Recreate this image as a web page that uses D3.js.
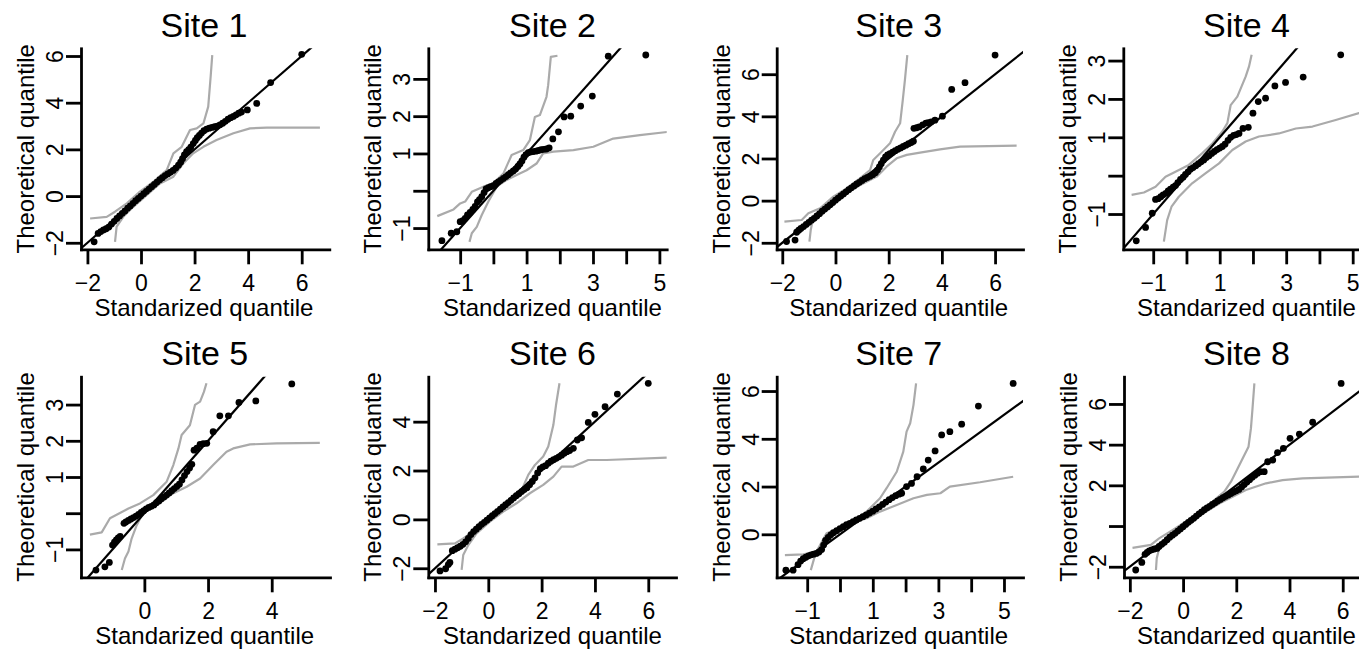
<!DOCTYPE html>
<html>
<head>
<meta charset="utf-8">
<script src="https://cdn.jsdelivr.net/npm/d3@7"></script>
<style>
  body { margin: 0; background: #fff; }
  svg { display: block; font-family: "Liberation Sans", Arial, Helvetica, sans-serif; }
</style>
</head>
<body>
<div id="grid"></div>
<script>
// Panel titles
var siteNames = ["Site 1", "Site 2", "Site 3", "Site 4", "Site 5", "Site 6", "Site 7", "Site 8"];

// Axis ranges (standardized on x, theoretical on y)
var xRanges = [[-2.24, 7.03], [-1.96, 5.22], [-2.21, 7.05], [-1.9, 5.31],
               [-1.99, 5.83], [-2.25, 7.04], [-1.93, 5.58], [-2.22, 7.1]];
var yRanges = [[-2.28, 6.33], [-1.57, 3.82], [-2.31, 7.23], [-1.92, 3.32],
               [-1.77, 3.77], [-2.37, 5.84], [-1.8, 6.6], [-2.52, 7.34]];

// Tick values and labels ("" = tick without label)
var xTickValues = [[-2, 0, 2, 4, 6], [-1, 0, 1, 2, 3, 4, 5], [-2, 0, 2, 4, 6], [-1, 0, 1, 2, 3, 4, 5],
                   [0, 2, 4], [-2, 0, 2, 4, 6], [-1, 0, 1, 2, 3, 4, 5], [-2, 0, 2, 4, 6]];
var xTickLabels = [["−2", "0", "2", "4", "6"], ["−1", "", "1", "", "3", "", "5"], ["−2", "0", "2", "4", "6"], ["−1", "", "1", "", "3", "", "5"],
                   ["0", "2", "4"], ["−2", "0", "2", "4", "6"], ["−1", "", "1", "", "3", "", "5"], ["−2", "0", "2", "4", "6"]];
var yTickValues = [[-2, 0, 2, 4, 6], [-1, 0, 1, 2, 3], [-2, 0, 2, 4, 6], [-1, 0, 1, 2, 3],
                   [-1, 0, 1, 2, 3], [-2, 0, 2, 4], [0, 2, 4, 6], [-2, 0, 2, 4, 6]];
var yTickLabels = [["−2", "0", "2", "4", "6"], ["−1", "", "1", "2", "3"], ["−2", "0", "2", "4", "6"], ["−1", "", "1", "2", "3"],
                   ["−1", "", "1", "2", "3"], ["−2", "0", "2", "4"], ["0", "2", "4", "6"], ["−2", "", "2", "4", "6"]];

// Quantile points [standardized, theoretical]
var site1Points = [[-1.75,-1.96],[-1.6,-1.6],[-1.5,-1.52],[-1.4,-1.45],[-1.3,-1.4],[-1.2,-1.33],[-1.1,-1.2],[-1.0,-1.08],[-0.9,-0.96],[-0.8,-0.85],[-0.7,-0.74],[-0.6,-0.64],[-0.5,-0.52],[-0.4,-0.42],[-0.3,-0.31],[-0.2,-0.2],[-0.1,-0.1],[0.0,0.0],[0.1,0.1],[0.2,0.2],[0.3,0.3],[0.4,0.4],[0.5,0.5],[0.6,0.6],[0.7,0.7],[0.8,0.79],[0.9,0.88],[1.0,0.95],[1.1,1.02],[1.2,1.1],[1.3,1.2],[1.4,1.32],[1.48,1.45],[1.55,1.6],[1.62,1.76],[1.7,1.9],[1.78,1.99],[1.86,2.1],[1.95,2.25],[2.03,2.38],[2.1,2.5],[2.18,2.6],[2.26,2.7],[2.35,2.8],[2.45,2.87],[2.55,2.91],[2.65,2.94],[2.75,2.97],[2.85,3.0],[2.95,3.05],[3.05,3.12],[3.15,3.2],[3.25,3.29],[3.35,3.36],[3.45,3.41],[3.55,3.48],[3.65,3.55],[3.75,3.6],[3.97,3.69],[4.32,3.97],[4.84,4.86],[6.0,6.07]];
var site2Points = [[-1.55,-1.34],[-1.27,-1.14],[-1.1,-1.1],[-1.0,-0.83],[-0.92,-0.8],[-0.85,-0.74],[-0.78,-0.65],[-0.7,-0.58],[-0.62,-0.5],[-0.55,-0.42],[-0.48,-0.3],[-0.42,-0.24],[-0.35,-0.16],[-0.28,-0.05],[-0.22,0.05],[-0.15,0.08],[-0.08,0.11],[0.0,0.14],[0.08,0.2],[0.15,0.24],[0.22,0.28],[0.3,0.33],[0.38,0.38],[0.45,0.43],[0.52,0.48],[0.6,0.53],[0.67,0.58],[0.74,0.65],[0.8,0.72],[0.86,0.8],[0.92,0.9],[0.98,0.97],[1.05,1.02],[1.12,1.04],[1.2,1.05],[1.28,1.06],[1.36,1.08],[1.44,1.1],[1.52,1.11],[1.6,1.12],[1.68,1.15],[1.79,1.39],[1.96,1.58],[2.13,1.98],[2.33,2.0],[2.63,2.27],[2.98,2.54],[3.46,3.61],[4.59,3.64]];
var site3Points = [[-1.84,-1.94],[-1.52,-1.87],[-1.46,-1.5],[-1.38,-1.4],[-1.3,-1.32],[-1.2,-1.23],[-1.1,-1.13],[-1.0,-1.03],[-0.9,-0.93],[-0.8,-0.84],[-0.7,-0.73],[-0.6,-0.62],[-0.5,-0.5],[-0.4,-0.4],[-0.3,-0.3],[-0.2,-0.2],[-0.1,-0.09],[0.0,0.02],[0.1,0.12],[0.2,0.22],[0.3,0.32],[0.4,0.42],[0.5,0.52],[0.6,0.61],[0.7,0.7],[0.8,0.79],[0.9,0.87],[1.0,0.96],[1.1,1.04],[1.2,1.1],[1.3,1.16],[1.4,1.23],[1.5,1.32],[1.58,1.45],[1.65,1.6],[1.72,1.75],[1.8,1.92],[1.88,2.07],[1.96,2.17],[2.05,2.23],[2.15,2.3],[2.25,2.37],[2.35,2.44],[2.45,2.5],[2.55,2.57],[2.65,2.63],[2.75,2.7],[2.85,2.76],[2.93,2.82],[2.95,3.43],[3.05,3.46],[3.15,3.5],[3.28,3.6],[3.4,3.68],[3.49,3.7],[3.6,3.74],[3.74,3.82],[4.02,4.01],[4.37,5.28],[4.87,5.6],[6.0,6.91]];
var site4Points = [[-1.51,-1.7],[-1.23,-1.35],[-1.03,-0.98],[-0.93,-0.62],[-0.85,-0.6],[-0.77,-0.55],[-0.7,-0.5],[-0.62,-0.46],[-0.55,-0.4],[-0.48,-0.35],[-0.4,-0.3],[-0.33,-0.26],[-0.26,-0.18],[-0.18,-0.1],[-0.1,-0.04],[-0.03,0.03],[0.05,0.1],[0.12,0.17],[0.2,0.21],[0.28,0.26],[0.36,0.31],[0.44,0.36],[0.52,0.41],[0.6,0.47],[0.68,0.52],[0.76,0.58],[0.84,0.63],[0.92,0.68],[1.0,0.72],[1.08,0.76],[1.16,0.82],[1.25,0.92],[1.33,1.0],[1.42,1.05],[1.5,1.07],[1.58,1.1],[1.7,1.23],[1.86,1.26],[2.0,1.63],[2.16,1.93],[2.38,2.02],[2.66,2.34],[2.98,2.43],[3.51,2.57],[4.64,3.15]];
var site5Points = [[-1.52,-1.57],[-1.24,-1.48],[-1.1,-1.36],[-1.0,-0.88],[-0.94,-0.8],[-0.88,-0.74],[-0.82,-0.68],[-0.76,-0.64],[-0.64,-0.28],[-0.58,-0.24],[-0.5,-0.2],[-0.42,-0.16],[-0.34,-0.12],[-0.26,-0.08],[-0.18,-0.03],[-0.1,0.02],[-0.02,0.07],[0.06,0.12],[0.14,0.16],[0.22,0.19],[0.3,0.23],[0.38,0.29],[0.46,0.34],[0.54,0.4],[0.62,0.45],[0.7,0.5],[0.78,0.56],[0.86,0.62],[0.94,0.68],[1.02,0.74],[1.1,0.8],[1.18,0.92],[1.26,1.04],[1.34,1.15],[1.42,1.25],[1.49,1.35],[1.56,1.74],[1.65,1.8],[1.75,1.9],[1.85,1.92],[1.96,1.93],[2.16,2.25],[2.37,2.69],[2.64,2.69],[2.97,3.06],[3.5,3.1],[4.63,3.57]];
var site6Points = [[-1.81,-2.11],[-1.6,-2.02],[-1.5,-1.85],[-1.44,-1.76],[-1.35,-1.28],[-1.25,-1.22],[-1.15,-1.16],[-1.05,-1.1],[-0.95,-1.02],[-0.85,-0.92],[-0.75,-0.78],[-0.65,-0.62],[-0.55,-0.5],[-0.45,-0.4],[-0.35,-0.3],[-0.25,-0.2],[-0.15,-0.12],[-0.05,-0.03],[0.05,0.06],[0.15,0.15],[0.25,0.24],[0.35,0.33],[0.45,0.42],[0.55,0.51],[0.65,0.6],[0.75,0.69],[0.85,0.78],[0.95,0.88],[1.05,0.97],[1.15,1.05],[1.25,1.14],[1.35,1.22],[1.45,1.3],[1.55,1.42],[1.65,1.55],[1.75,1.7],[1.85,1.9],[1.95,2.08],[2.05,2.15],[2.15,2.2],[2.25,2.3],[2.35,2.38],[2.45,2.44],[2.55,2.5],[2.65,2.56],[2.75,2.63],[2.85,2.71],[2.95,2.77],[3.05,2.82],[3.19,2.91],[3.34,3.25],[3.5,3.34],[3.75,3.97],[4.0,4.3],[4.38,4.61],[4.84,5.13],[6.0,5.57]];
var site7Points = [[-1.65,-1.5],[-1.43,-1.5],[-1.28,-1.27],[-1.2,-1.12],[-1.12,-1.02],[-1.04,-0.96],[-0.96,-0.9],[-0.88,-0.86],[-0.8,-0.83],[-0.72,-0.8],[-0.64,-0.74],[-0.56,-0.64],[-0.5,-0.45],[-0.44,-0.25],[-0.36,-0.13],[-0.28,-0.02],[-0.2,0.07],[-0.1,0.15],[0.0,0.24],[0.1,0.32],[0.2,0.4],[0.3,0.46],[0.4,0.53],[0.5,0.6],[0.6,0.67],[0.7,0.74],[0.8,0.81],[0.9,0.89],[1.0,0.97],[1.1,1.06],[1.2,1.15],[1.3,1.25],[1.4,1.35],[1.5,1.45],[1.6,1.54],[1.7,1.62],[1.8,1.68],[1.88,1.72],[2.03,2.0],[2.18,2.13],[2.35,2.41],[2.54,2.74],[2.69,3.11],[2.9,3.49],[3.1,4.16],[3.35,4.3],[3.71,4.61],[4.22,5.37],[5.28,6.32]];
var site8Points = [[-1.78,-2.16],[-1.55,-1.79],[-1.43,-1.39],[-1.35,-1.3],[-1.27,-1.22],[-1.18,-1.17],[-1.08,-1.13],[-0.98,-1.1],[-0.9,-1.0],[-0.8,-0.9],[-0.7,-0.8],[-0.6,-0.67],[-0.5,-0.55],[-0.4,-0.45],[-0.3,-0.36],[-0.2,-0.25],[-0.1,-0.14],[0.0,-0.03],[0.1,0.08],[0.2,0.18],[0.3,0.28],[0.4,0.38],[0.5,0.49],[0.6,0.6],[0.7,0.7],[0.8,0.8],[0.9,0.89],[1.0,0.97],[1.1,1.06],[1.2,1.14],[1.3,1.23],[1.4,1.31],[1.5,1.39],[1.6,1.46],[1.7,1.53],[1.8,1.6],[1.9,1.67],[2.0,1.73],[2.1,1.8],[2.2,1.92],[2.3,2.04],[2.4,2.16],[2.5,2.28],[2.6,2.4],[2.7,2.5],[2.8,2.6],[2.9,2.67],[3.05,2.67],[3.18,3.16],[3.37,3.24],[3.55,3.61],[3.77,3.82],[4.02,4.31],[4.37,4.52],[4.87,5.1],[5.94,7.01]];

// Envelope curves (upper and lower)
var site1Upper = [[-1.9,-0.96],[-1.28,-0.89],[-0.97,-0.67],[-0.53,-0.31],[-0.04,0.19],[0.46,0.61],[0.96,1.11],[1.21,1.83],[1.52,2.11],[1.83,2.83],[2.08,2.9],[2.33,3.11],[2.51,3.83],[2.6,5.11],[2.66,6.04]];
var site1Lower = [[-0.97,-1.96],[-0.91,-1.31],[-0.66,-0.89],[-0.29,-0.46],[0.21,0.04],[0.71,0.54],[1.21,0.83],[1.58,1.4],[1.95,1.83],[2.33,2.11],[2.82,2.4],[3.45,2.69],[4.07,2.9],[4.69,2.93],[6.68,2.93]];
var site2Upper = [[-1.69,-0.68],[-1.2,-0.5],[-1.0,-0.34],[-0.85,-0.29],[-0.65,-0.03],[-0.3,0.11],[0,0.2],[0.3,0.46],[0.55,0.96],[0.9,1.09],[1.1,1.36],[1.25,1.98],[1.4,2.03],[1.6,2.52],[1.65,2.83],[1.73,3.59],[1.93,3.62]];
var site2Lower = [[-0.72,-1.37],[-0.65,-1.14],[-0.5,-0.97],[-0.35,-0.65],[-0.15,-0.29],[0.1,0.11],[0.4,0.29],[0.7,0.42],[1.0,0.55],[1.3,0.73],[1.5,1.0],[1.81,1.05],[2.41,1.09],[3.01,1.18],[3.61,1.4],[4.41,1.49],[5.27,1.58]];
var site3Upper = [[-1.92,-1.0],[-1.27,-0.92],[-1.02,-0.6],[-0.58,-0.36],[-0.08,0.19],[0.42,0.58],[0.92,1.06],[1.3,1.45],[1.42,1.93],[1.67,2.24],[2.05,2.72],[2.24,3.27],[2.43,3.67],[2.53,4.77],[2.61,5.72],[2.7,6.91]];
var site3Lower = [[-0.98,-1.94],[-0.93,-1.39],[-0.83,-0.76],[-0.46,-0.36],[0.04,0.11],[0.67,0.58],[1.17,0.9],[1.55,1.14],[1.92,1.61],[2.3,2.01],[2.68,2.17],[3.18,2.28],[3.93,2.43],[4.68,2.56],[6.81,2.61]];
var site4Upper = [[-1.65,-0.5],[-1.28,-0.44],[-0.93,-0.29],[-0.63,-0.03],[-0.33,0.1],[0.07,0.28],[0.47,0.58],[0.78,0.84],[1.08,1.15],[1.23,1.37],[1.33,1.84],[1.53,2.06],[1.78,2.58],[1.88,2.84],[1.96,3.15]];
var site4Lower = [[-0.68,-1.72],[-0.58,-1.16],[-0.45,-0.81],[-0.23,-0.55],[0.17,-0.2],[0.57,0.06],[0.98,0.32],[1.38,0.67],[1.78,0.89],[2.18,1.02],[2.78,1.1],[3.29,1.23],[3.79,1.28],[4.49,1.45],[5.19,1.63],[5.4,1.68]];
var site5Upper = [[-1.71,-0.59],[-1.34,-0.53],[-1.08,-0.14],[-0.5,0.13],[-0.14,0.27],[0.28,0.5],[0.7,0.87],[0.91,1.33],[1.07,1.79],[1.17,2.16],[1.43,2.43],[1.59,2.99],[1.75,3.08],[1.87,3.35],[1.95,3.59]];
var site5Lower = [[-0.71,-1.57],[-0.61,-1.25],[-0.5,-1.06],[-0.4,-0.7],[-0.24,-0.33],[-0.03,0.04],[0.39,0.31],[0.91,0.55],[1.33,0.73],[1.75,0.96],[2.16,1.33],[2.58,1.7],[2.79,1.79],[3.32,1.9],[4.15,1.93],[5.51,1.94]];
var site6Upper = [[-1.91,-1.02],[-1.25,-0.98],[-0.94,-0.78],[-0.56,-0.5],[-0.06,-0.09],[0.44,0.32],[0.94,0.79],[1.25,1.2],[1.5,1.82],[1.75,2.23],[2.06,2.57],[2.25,2.98],[2.44,3.86],[2.54,4.68],[2.67,5.57]];
var site6Lower = [[-1.0,-2.07],[-0.94,-1.46],[-0.75,-1.05],[-0.44,-0.57],[0.06,-0.09],[0.56,0.32],[1.06,0.66],[1.56,1.07],[2.06,1.41],[2.44,1.75],[2.75,2.16],[3.19,2.16],[3.75,2.43],[4.44,2.43],[6.69,2.53]];
var site7Upper = [[-1.68,-0.87],[-1.12,-0.84],[-0.72,-0.73],[-0.41,0.04],[0,0.25],[0.4,0.53],[0.81,0.95],[1.22,1.51],[1.42,1.93],[1.73,2.62],[1.93,3.46],[2.03,4.3],[2.14,4.65],[2.24,5.41],[2.32,6.32]];
var site7Lower = [[-0.89,-1.5],[-0.76,-0.87],[-0.56,-0.52],[-0.41,-0.1],[-0.1,0.18],[0.4,0.46],[0.81,0.67],[1.22,0.95],[1.73,1.23],[2.24,1.51],[2.65,1.65],[3.06,1.72],[3.35,2.0],[4.27,2.18],[5.28,2.41]];
var site8Upper = [[-1.9,-1.07],[-1.21,-0.93],[-0.9,-0.61],[-0.4,-0.2],[0.1,0.21],[0.61,0.7],[1.11,1.2],[1.55,1.69],[1.8,2.18],[1.99,2.67],[2.21,3.24],[2.46,3.9],[2.55,4.8],[2.61,5.78],[2.68,7.01]];
var site8Lower = [[-1.02,-2.16],[-0.99,-1.59],[-0.9,-1.1],[-0.65,-0.61],[-0.15,-0.11],[0.36,0.3],[0.86,0.7],[1.36,1.11],[1.86,1.44],[2.36,1.77],[3.12,2.1],[3.74,2.26],[4.49,2.34],[6.62,2.43],[7.1,2.44]];

var sitePoints = [site1Points, site2Points, site3Points, site4Points, site5Points, site6Points, site7Points, site8Points];
var siteUpper = [site1Upper, site2Upper, site3Upper, site4Upper, site5Upper, site6Upper, site7Upper, site8Upper];
var siteLower = [site1Lower, site2Lower, site3Lower, site4Lower, site5Lower, site6Lower, site7Lower, site8Lower];

// Define SVG area dimensions
var svgWidth = 1359;
var svgHeight = 649;

// Plot regions of each panel (pixels)
var panelLayout = [
  {left: 81,     right: 329.3, top: 48.3,  bottom: 249.3, centerX: 204},
  {left: 428.3,  right: 666.7, top: 48.3,  bottom: 249.3, centerX: 552.5},
  {left: 776.7,  right: 1023,  top: 48.3,  bottom: 249.3, centerX: 898.7},
  {left: 1123.3, right: 1363,  top: 48.3,  bottom: 249.3, centerX: 1246.5},
  {left: 81,     right: 330,   top: 376.7, bottom: 577.3, centerX: 204.7},
  {left: 428.3,  right: 676,   top: 376.7, bottom: 577.3, centerX: 552.5},
  {left: 776.7,  right: 1023,  top: 376.7, bottom: 577.3, centerX: 898.7},
  {left: 1124,   right: 1372,  top: 376.7, bottom: 577.3, centerX: 1246.5}
];

var svg = d3.select("#grid")
  .append("svg")
  .attr("width", svgWidth)
  .attr("height", svgHeight);

svg.append("rect")
  .attr("width", svgWidth)
  .attr("height", svgHeight)
  .attr("fill", "#fff");

function drawPanel(i) {
  var lay = panelLayout[i];

  var xScale = d3.scaleLinear().domain(xRanges[i]).range([lay.left, lay.right]);
  var yScale = d3.scaleLinear().domain(yRanges[i]).range([lay.bottom, lay.top]);

  var panel = svg.append("g").attr("class", "panel");

  panel.append("clipPath")
    .attr("id", "clip" + i)
    .append("rect")
    .attr("x", lay.left)
    .attr("y", lay.top)
    .attr("width", lay.right - lay.left)
    .attr("height", lay.bottom - lay.top);

  var plotArea = panel.append("g").attr("clip-path", "url(#clip" + i + ")");

  var envLine = d3.line()
    .x(d => xScale(d[0]))
    .y(d => yScale(d[1]));

  // envelope curves
  [siteUpper[i], siteLower[i]].forEach(function(curve) {
    plotArea.append("path")
      .datum(curve)
      .attr("d", envLine)
      .attr("fill", "none")
      .attr("stroke", "#aaaaaa")
      .attr("stroke-width", 2.2)
      .attr("stroke-linejoin", "round");
  });

  // points
  plotArea.selectAll(".pt")
    .data(sitePoints[i])
    .enter()
    .append("circle")
    .attr("class", "pt")
    .attr("cx", d => xScale(d[0]))
    .attr("cy", d => yScale(d[1]))
    .attr("r", 3.4)
    .attr("fill", "#000");

  // identity line y = x
  var lo = Math.min(xRanges[i][0], yRanges[i][0]);
  var hi = Math.max(xRanges[i][1], yRanges[i][1]);
  plotArea.append("path")
    .datum([[lo, lo], [hi, hi]])
    .attr("d", envLine)
    .attr("stroke", "#000")
    .attr("stroke-width", 2.2);

  // x axis
  var bottomAxis = d3.axisBottom(xScale)
    .tickValues(xTickValues[i])
    .tickFormat((d, j) => xTickLabels[i][j])
    .tickSize(15)
    .tickSizeOuter(0);

  var gx = panel.append("g")
    .attr("transform", `translate(0, ${lay.bottom})`)
    .call(bottomAxis)
    .attr("font-size", null)
    .attr("font-family", null);
  gx.select(".domain").attr("stroke-width", 2.8).attr("stroke-linecap", "square");
  gx.selectAll(".tick line").attr("stroke-width", 2.8);
  gx.selectAll(".tick text")
    .attr("y", 42)
    .attr("dy", null)
    .style("font-size", "23px");

  // y axis
  var leftAxis = d3.axisLeft(yScale)
    .tickValues(yTickValues[i])
    .tickFormat((d, j) => yTickLabels[i][j])
    .tickSize(15)
    .tickSizeOuter(0);

  var gy = panel.append("g")
    .attr("transform", `translate(${lay.left}, 0)`)
    .call(leftAxis)
    .attr("font-size", null)
    .attr("font-family", null);
  gy.select(".domain").attr("stroke-width", 2.8).attr("stroke-linecap", "square");
  gy.selectAll(".tick line").attr("stroke-width", 2.8);
  gy.selectAll(".tick text")
    .attr("x", 0)
    .attr("y", -18)
    .attr("dy", null)
    .attr("text-anchor", "middle")
    .attr("transform", "rotate(-90)")
    .style("font-size", "23px");

  // titles
  panel.append("text")
    .attr("x", lay.centerX)
    .attr("y", lay.top - 11.5)
    .attr("text-anchor", "middle")
    .style("font-size", "34px")
    .text(siteNames[i]);

  panel.append("text")
    .attr("x", lay.centerX)
    .attr("y", lay.bottom + 66.5)
    .attr("text-anchor", "middle")
    .style("font-size", "24px")
    .text("Standarized quantile");

  panel.append("text")
    .attr("transform", `translate(${lay.left - 47}, ${(lay.top + lay.bottom) / 2}) rotate(-90)`)
    .attr("text-anchor", "middle")
    .style("font-size", "24px")
    .text("Theoretical quantile");
}

for (var i = 0; i < siteNames.length; i++) {
  drawPanel(i);
}
</script>
</body>
</html>
